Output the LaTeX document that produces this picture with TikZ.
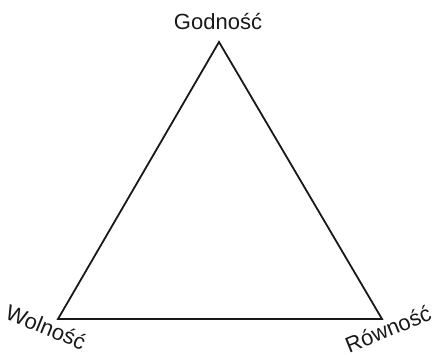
\documentclass[tikz,border=0pt]{standalone}
\usepackage{fontspec}
\setmainfont{Liberation Sans}
\usetikzlibrary{positioning}

\begin{document}
\begin{tikzpicture}[
  x=1pt,y=1pt,
  edge/.style={draw=black!90, line width=1.8pt, line join=miter},
  value/.style={font=\fontsize{22}{26}\selectfont, text=black!90, inner sep=0pt}
]
  \useasboundingbox (0,0) rectangle (435,355);

  \coordinate (top) at (219,313);
  \coordinate (left) at (58,36);
  \coordinate (right) at (382,36);

  \draw[edge] (top) -- (left) -- (right) -- cycle;

  \node[value] (godnosc) at (218,333) {Godność};
  \node[value, rotate=-22] (wolnosc) at (46,28) {Wolność};
  \node[value, rotate=22] (rownosc) at (388,26) {Równość};
\end{tikzpicture}
\end{document}
